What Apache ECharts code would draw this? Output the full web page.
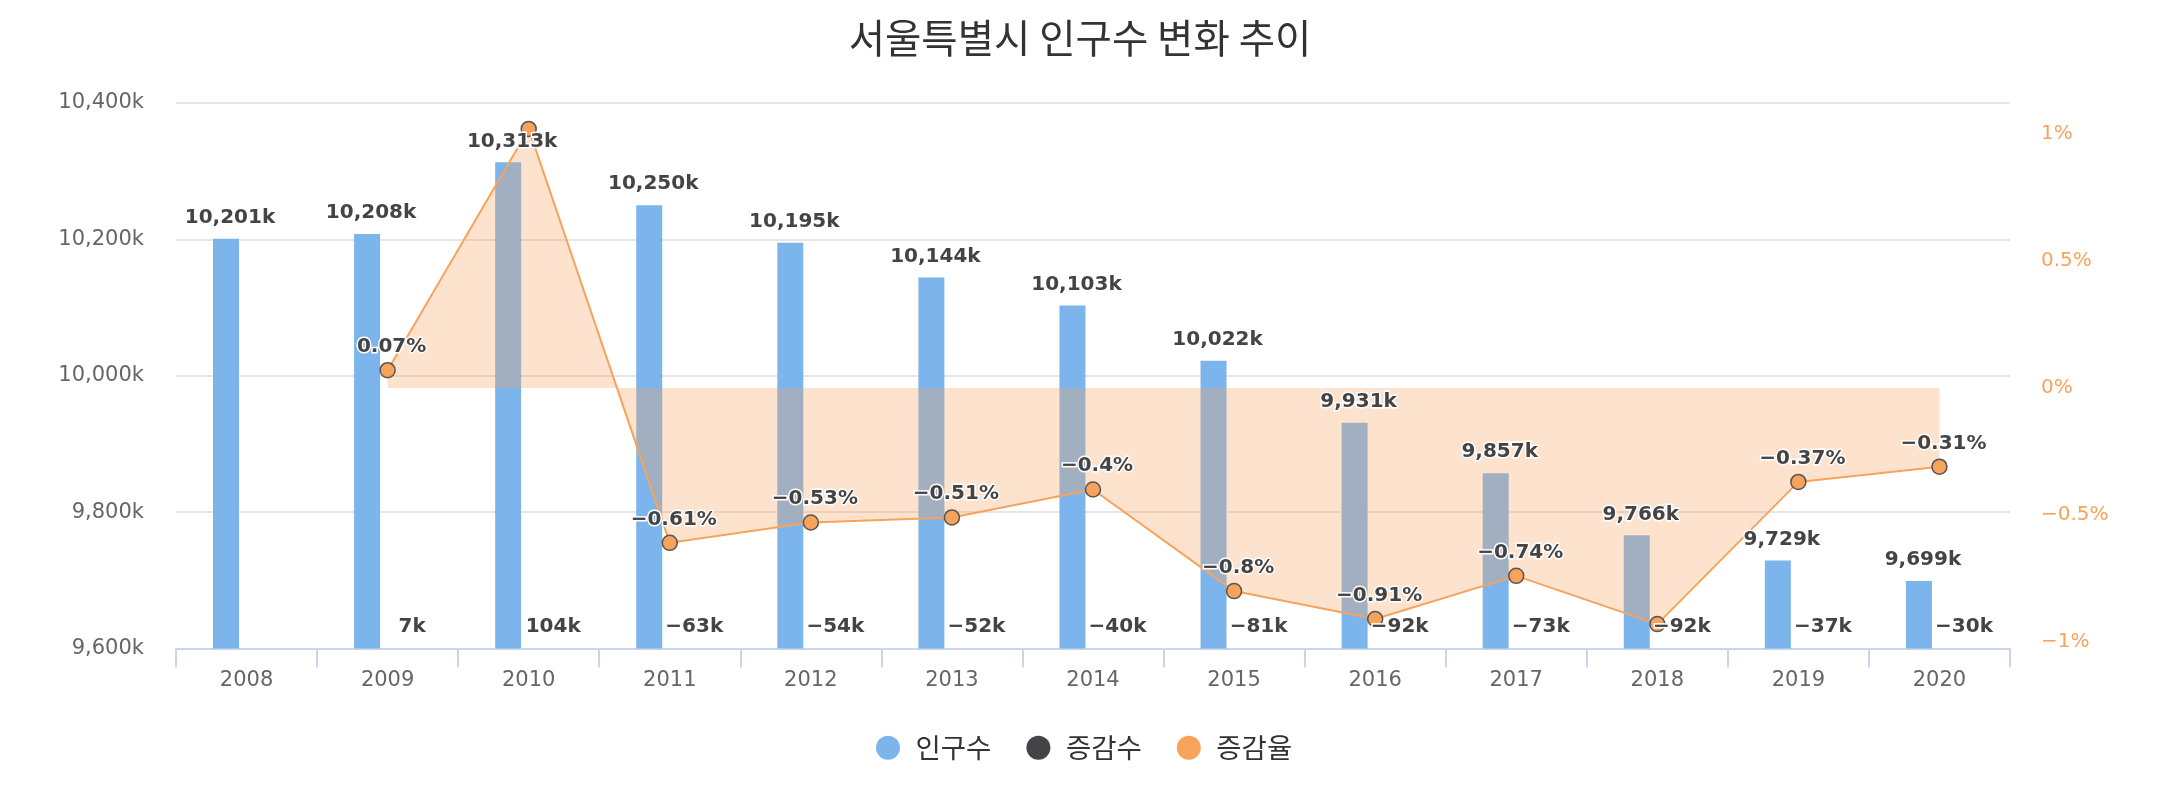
<!DOCTYPE html>
<html>
<head>
<meta charset="utf-8">
<script src="https://cdn.jsdelivr.net/npm/echarts@6/dist/echarts.min.js"></script>
<style>
  html, body { margin: 0; padding: 0; background: #fff; }
  #chart { width: 2160px; height: 800px; }
</style>
</head>
<body>
<div id="chart"></div>
<script>
  // 데이터 (인구수, 증감수 단위: 천명)
  let years = ['2008', '2009', '2010', '2011', '2012', '2013', '2014', '2015', '2016', '2017', '2018', '2019', '2020'];
  let population = [10201, 10208, 10313, 10250, 10195, 10144, 10103, 10022, 9931, 9857, 9766, 9729, 9699];
  let change = [null, 7, 104, -63, -54, -52, -40, -81, -92, -73, -92, -37, -30];
  let changeRate = [null, 0.07, 1.02, -0.61, -0.53, -0.51, -0.4, -0.8, -0.91, -0.74, -0.93, -0.37, -0.31];
  let rateTicks = [-1, -0.5, 0, 0.5, 1];
  // 겹쳐서 원본에서 숨겨진 증감율 라벨
  let hiddenRateLabels = ['2010', '2018'];

  let fontFamily = "'DejaVu Sans', 'Noto Sans CJK KR', sans-serif";
  let clear = 'rgba(0,0,0,0)';
  let minus = function (v) { return v < 0 ? '\u2212' : ''; };

  let dataLabel = {
    show: true,
    fontFamily: fontFamily,
    fontSize: 20,
    fontWeight: 'bold',
    color: '#444',
    textBorderColor: '#fff',
    textBorderWidth: 3
  };
  let popLabel = Object.assign({}, dataLabel, {
    position: 'top',
    distance: 11,
    offset: [4, 0],
    formatter: function (p) { return p.value.toLocaleString('en-US') + 'k'; }
  });
  let changeLabel = Object.assign({}, dataLabel, {
    position: 'top',
    distance: 12,
    offset: [4, 0],
    formatter: function (p) { return minus(p.value) + Math.abs(p.value) + 'k'; }
  });

  let chart = echarts.init(document.getElementById('chart'));
  chart.setOption({
    animation: false,
    textStyle: { fontFamily: fontFamily },
    title: {
      text: '서울특별시 인구수 변화 추이',
      left: 'center',
      top: 13,
      textStyle: {
        fontFamily: "'Noto Sans CJK KR', sans-serif",
        fontSize: 39.5,
        fontWeight: 'normal',
        color: '#333'
      }
    },
    legend: {
      left: 871,
      top: 729,
      icon: 'circle',
      itemWidth: 45,
      itemHeight: 24,
      itemGap: 35,
      textStyle: {
        fontFamily: "'Noto Sans CJK KR', sans-serif",
        fontSize: 27.5,
        color: '#333'
      },
      data: [
        { name: '인구수', itemStyle: { color: '#7cb5ec', borderWidth: 0 } },
        { name: '증감수', itemStyle: { color: '#434348', borderWidth: 0 } },
        { name: '증감율', itemStyle: { color: '#f7a35c', borderWidth: 0 } }
      ]
    },
    grid: {
      left: 176,
      right: 150,
      top: 103,
      bottom: 151.5
    },
    xAxis: [{
      type: 'category',
      data: years,
      axisLine: { show: true, onZero: false, lineStyle: { color: '#ccd6eb', width: 2 } },
      axisTick: { show: true, length: 19, lineStyle: { color: '#ccd6eb', width: 2 } },
      axisLabel: { color: '#666', fontSize: 21, margin: 22 }
    }, {
      // 라벨을 영역 위에 그리기 위한 숨은 축
      type: 'category',
      data: years,
      show: false
    }],
    yAxis: [{
      type: 'value',
      min: 9600,
      max: 10400,
      interval: 200,
      axisLine: { show: false },
      axisTick: { show: false },
      splitLine: { lineStyle: { color: '#e6e6e6', width: 2 } },
      axisLabel: {
        color: '#666',
        fontSize: 21,
        margin: 32,
        formatter: function (v) { return v.toLocaleString('en-US') + 'k'; }
      }
    }, {
      type: 'value',
      position: 'right',
      min: -1.026,
      max: 1.122,
      axisLine: { show: false },
      axisTick: { show: false },
      splitLine: { show: false },
      axisLabel: {
        color: '#f7a35c',
        fontSize: 20,
        margin: 31,
        customValues: rateTicks,
        formatter: function (v) { return minus(v) + Math.abs(v) + '%'; }
      }
    }, {
      // 증감수는 축 범위 밖이라 축 바로 위에 라벨만 보이게 한다
      type: 'value',
      show: false,
      min: 0,
      max: 1000000
    }],
    series: [{
      name: '인구수',
      type: 'bar',
      z: 1,
      yAxisIndex: 0,
      data: population,
      barWidth: 26,
      barGap: '58%',
      itemStyle: { color: '#7cb5ec' }
    }, {
      name: '증감수',
      type: 'bar',
      z: 1,
      yAxisIndex: 2,
      data: change,
      barWidth: 26,
      barGap: '58%',
      clip: false,
      itemStyle: { color: clear }
    }, {
      name: '증감율',
      type: 'line',
      z: 2,
      yAxisIndex: 1,
      data: changeRate.map(function (v, i) {
        return hiddenRateLabels.indexOf(years[i]) >= 0 ? { value: v, label: { show: false } } : v;
      }),
      color: '#f7a35c',
      lineStyle: { color: '#f7a35c', width: 2 },
      areaStyle: { color: '#f7a35c', opacity: 0.3 },
      symbol: 'circle',
      symbolSize: 15,
      itemStyle: { color: '#f7a35c', borderColor: '#555', borderWidth: 1.5 },
      label: Object.assign({}, dataLabel, {
        position: 'top',
        distance: 5,
        offset: [4, 0],
        formatter: function (p) { return minus(p.value) + Math.abs(p.value) + '%'; }
      })
    }, {
      name: '인구수',
      type: 'bar',
      z: 3,
      xAxisIndex: 1,
      yAxisIndex: 0,
      data: population,
      barWidth: 26,
      barGap: '58%',
      itemStyle: { color: clear },
      label: popLabel
    }, {
      name: '증감수',
      type: 'bar',
      z: 3,
      xAxisIndex: 1,
      yAxisIndex: 2,
      data: change,
      barWidth: 26,
      barGap: '58%',
      clip: false,
      itemStyle: { color: clear },
      label: changeLabel
    }]
  });
</script>
</body>
</html>
